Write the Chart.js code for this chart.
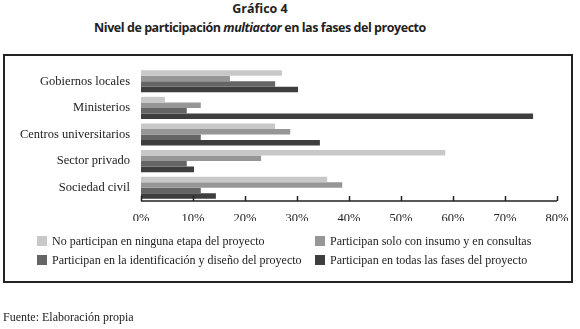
<!DOCTYPE html>
<html>
<head>
<meta charset="utf-8">
<script src="https://cdn.jsdelivr.net/npm/chart.js@4/dist/chart.umd.min.js"></script>
<style>
  body { margin: 0; width: 580px; height: 329px; background: #fff; position: relative; overflow: hidden; }
  .title { position: absolute; left: 0; width: 520px; text-align: center; font-family: "Open Sans", sans-serif; font-weight: bold; color: #222; white-space: nowrap; }
  .t1 { top: 0px; font-size: 12.5px; }
  .t2 { top: 19px; font-size: 12.5px; letter-spacing: -0.45px; }
  .frame { position: absolute; left: 3px; top: 54px; width: 566px; height: 225px; border: 2px solid #222; }
  #chart { position: absolute; left: 0; top: 0; }
  .legend { position: absolute; font-family: "Liberation Serif", serif; font-size: 12px; color: #222; white-space: nowrap; }
  .legend span.box { display: inline-block; width: 10px; height: 10px; margin-right: 5px; vertical-align: -1px; }
  .source { position: absolute; left: 3px; top: 310px; font-family: "Liberation Serif", serif; font-size: 12px; color: #222; }
</style>
</head>
<body>
<div class="title t1">Gráfico 4</div>
<div class="title t2">Nivel de participación <i>multiactor</i> en las fases del proyecto</div>
<div class="frame"></div>
<canvas id="chart" width="580" height="329"></canvas>
<div id="legend"></div>
<div class="source">Fuente: Elaboración propia</div>
<script>
const categories = ["Gobiernos locales", "Ministerios", "Centros universitarios", "Sector privado", "Sociedad civil"];
const seriesLabels = [
  "No participan en ninguna etapa del proyecto",
  "Participan solo con insumo y en consultas",
  "Participan en la identificación y diseño del proyecto",
  "Participan en todas las fases del proyecto",
];
const noParticipan = [27.1, 4.6, 25.8, 58.5, 35.8];
const soloInsumo = [17.1, 11.5, 28.7, 23.1, 38.7];
const identificacion = [25.8, 8.8, 11.5, 8.8, 11.5];
const todasFases = [30.2, 75.4, 34.4, 10.2, 14.4];
const xTicks = [0, 10, 20, 30, 40, 50, 60, 70, 80];
const colors = ["#c8c8c8", "#969696", "#656565", "#3e3e3e"];

const seriesData = [noParticipan, soloInsumo, identificacion, todasFases];
const serif = "'Liberation Serif', serif";

// axis line with ticks pointing up into the plot
const axisPlugin = {
  id: "axisLine",
  afterDraw(chart) {
    const ctx = chart.ctx;
    const area = chart.chartArea;
    const x = chart.scales.x;
    ctx.save();
    ctx.strokeStyle = "#222";
    ctx.lineWidth = 1.5;
    ctx.beginPath();
    ctx.moveTo(area.left, area.bottom);
    ctx.lineTo(area.right, area.bottom);
    xTicks.forEach((v) => {
      const px = Math.round(x.getPixelForValue(v)) + 0.5;
      ctx.moveTo(px, area.bottom);
      ctx.lineTo(px, area.bottom - 5);
    });
    ctx.stroke();
    ctx.restore();
  },
};

new Chart(document.getElementById("chart").getContext("2d"), {
  type: "bar",
  data: {
    labels: categories,
    datasets: seriesData.map((d, i) => ({
      label: seriesLabels[i],
      data: d,
      backgroundColor: colors[i],
      barPercentage: 1,
      categoryPercentage: 0.83,
    })),
  },
  options: {
    indexAxis: "y",
    responsive: false,
    animation: false,
    layout: { padding: { left: 0, right: 23, top: 68, bottom: 108 } },
    plugins: { legend: { display: false }, tooltip: { enabled: false } },
    scales: {
      x: {
        min: 0,
        max: 80,
        afterBuildTicks: (s) => { s.ticks = xTicks.map((v) => ({ value: v })); },
        ticks: { callback: (v) => v + "%", font: { family: serif, size: 12.5 }, color: "#222", padding: 10, maxRotation: 0 },
        grid: { display: false, drawTicks: false },
        border: { display: false },
        afterFit: (s) => { s.height = 20; },
      },
      y: {
        ticks: { font: { family: serif, size: 12.5 }, color: "#222", padding: 11 },
        grid: { display: false, drawTicks: false },
        border: { display: false },
        afterFit: (s) => { s.width = 141; },
      },
    },
  },
  plugins: [axisPlugin],
});

// two-column legend under the plot
const legendPos = [[37, 234], [315, 234], [37, 253], [315, 253]];
const legendDiv = document.getElementById("legend");
seriesLabels.forEach((label, i) => {
  const item = document.createElement("div");
  item.className = "legend";
  item.style.left = legendPos[i][0] + "px";
  item.style.top = legendPos[i][1] + "px";
  const box = document.createElement("span");
  box.className = "box";
  box.style.background = colors[i];
  item.appendChild(box);
  item.appendChild(document.createTextNode(label));
  legendDiv.appendChild(item);
});
</script>
</body>
</html>
